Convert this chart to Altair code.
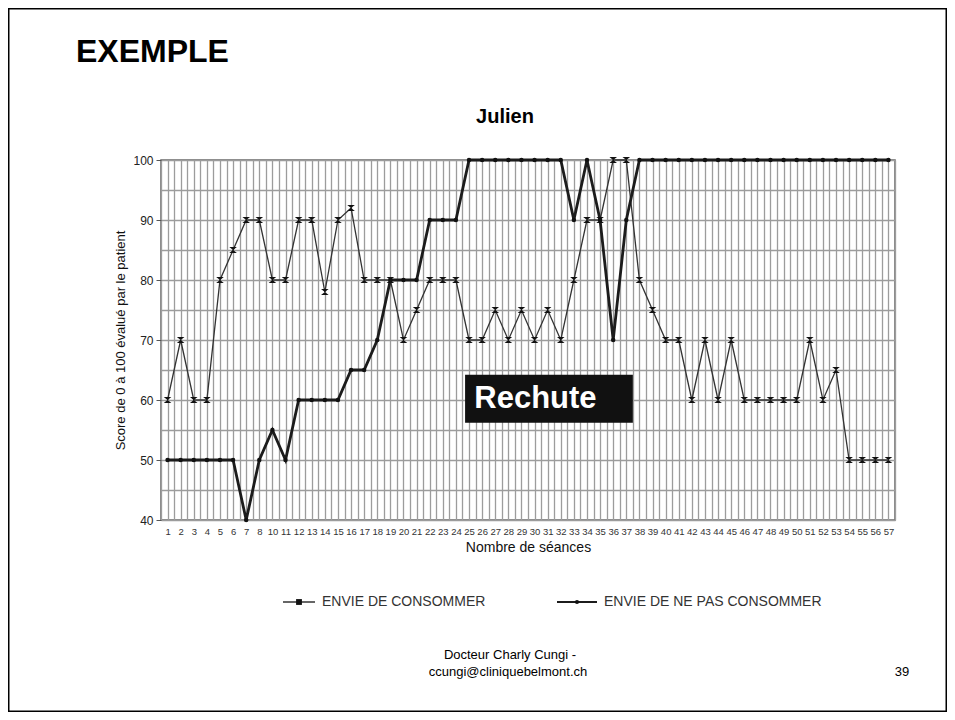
import json
import altair as alt
import pandas as pd

# ---------------- data ----------------
sessions = [1, 2, 3, 4, 5, 6, 7, 8, 10, 11, 12, 13, 14, 15, 16, 17, 18, 19, 20,
            21, 22, 23, 24, 25, 26, 27, 28, 29, 30, 31, 32, 33, 34, 35, 36, 37,
            38, 39, 40, 41, 42, 43, 44, 45, 46, 47, 48, 49, 50, 51, 52, 53, 54,
            55, 56, 57]

envie_consommer = [60, 70, 60, 60, 80, 85, 90, 90, 80, 80, 90, 90, 78, 90,
                   92, 80, 80, 80, 70, 75, 80, 80, 80, 70, 70, 75, 70,
                   75, 70, 75, 70, 80, 90, 90, 100, 100, 80, 75, 70, 70,
                   60, 70, 60, 70, 60, 60, 60, 60, 60, 70, 60, 65, 50, 50, 50, 50]

envie_ne_pas = [50, 50, 50, 50, 50, 50, 40, 50, 55, 50, 60, 60, 60, 60,
                65, 65, 70, 80, 80, 80, 90, 90, 90, 100, 100, 100, 100,
                100, 100, 100, 100, 90, 100, 90, 70, 90, 100, 100, 100, 100,
                100, 100, 100, 100, 100, 100, 100, 100, 100, 100, 100, 100, 100, 100, 100, 100]

series_names = ["ENVIE DE CONSOMMER", "ENVIE DE NE PAS CONSOMMER"]

# annotation box "Rechute" (in data units: session index / score)
rechute_text = ["Rechute"]
rechute_x = [22.7, 35.5]
rechute_y = [56.2, 64.2]
rechute_text_pos = [23.4, 60.2]

# ---------------- tables ----------------
n = len(sessions)
rows = []
for name, vals in zip(series_names, [envie_consommer, envie_ne_pas]):
    for i, (s, v) in enumerate(zip(sessions, vals)):
        rows.append({"idx": i, "session": s, "series": name, "marker": name, "value": v})
df = pd.DataFrame(rows)

ann = pd.DataFrame({
    "x1": [rechute_x[0]], "x2": [rechute_x[1]],
    "y1": [rechute_y[0]], "y2": [rechute_y[1]],
    "tx": [rechute_text_pos[0]], "ty": [rechute_text_pos[1]],
    "label": rechute_text,
})

FONT = "Liberation Sans, Arial, sans-serif"
label_arr = json.dumps([str(s) for s in sessions])
grid_vals = [k / 2 - 0.5 for k in range(2 * n + 1)]

x_scale = alt.Scale(domain=[-0.5, n - 0.5], nice=False, zero=False)
y_scale = alt.Scale(domain=[40, 100], nice=False, zero=False)

GRID = "#9c9c9c"

x_axis = alt.Axis(
    values=grid_vals,
    labelExpr=f"datum.value % 1 === 0 ? {label_arr}[datum.value] : ''",
    grid=True, gridColor=GRID, gridWidth=1.3,
    ticks=False, domain=False, labelAngle=0, labelOverlap=False,
    labelFont=FONT, labelFontSize=9.5, labelColor="#333", labelPadding=6,
    labelBound=False, labelFlush=False,
    title="Nombre de séances", titleFont=FONT, titleFontSize=14,
    titleFontWeight="normal", titleColor="#111", titlePadding=5,
)
y_axis = alt.Axis(
    values=list(range(40, 101, 5)),
    labelExpr="datum.value % 10 === 0 ? datum.label : ''",
    grid=True, gridColor=GRID, gridWidth=1.3,
    ticks=True, tickSize=5, tickColor="#555",
    tickOpacity={"expr": "datum.value % 10 === 0 ? 1 : 0"},
    domain=False,
    labelFont=FONT, labelFontSize=12, labelColor="#222", labelPadding=3,
    title="Score de 0 à 100 évalué par le patient", titleFont=FONT,
    titleFontSize=13, titleFontWeight="normal", titleColor="#111",
    titlePadding=5,
)


def X(field):
    return alt.X(field, scale=x_scale, axis=x_axis)


def Y(field):
    return alt.Y(field, scale=y_scale, axis=y_axis)


hourglass = "M-1,-0.8L1,-0.8L0,0ZM-1,0.8L1,0.8L0,0Z"
line_colors = ["#333333", "#1c1c1c"]
line_widths = [1.3, 2.8]

lines = alt.Chart(df).mark_line().encode(
    x=X("idx:Q"),
    y=Y("value:Q"),
    color=alt.Color("series:N", scale=alt.Scale(domain=series_names, range=line_colors), legend=None),
    strokeWidth=alt.StrokeWidth(
        "series:N", scale=alt.Scale(domain=series_names, range=line_widths), legend=None
    ),
)

points = alt.Chart(df).mark_point(filled=True, color="#111", opacity=1, strokeWidth=1).encode(
    x=X("idx:Q"),
    y=Y("value:Q"),
    shape=alt.Shape("marker:N", scale=alt.Scale(domain=series_names, range=[hourglass, "circle"]), legend=None),
    size=alt.Size("marker:N", scale=alt.Scale(domain=series_names, range=[58, 20]), legend=None),
)

box = alt.Chart(ann).mark_rect(color="#111111").encode(
    x=X("x1:Q"), x2="x2:Q", y=Y("y1:Q"), y2="y2:Q"
)
box_text = alt.Chart(ann).mark_text(
    align="left", baseline="middle", font=FONT, fontSize=31, fontWeight="bold", color="white"
).encode(x=X("tx:Q"), y=Y("ty:Q"), text="label:N")


def slide_text(txt, px, py, size, weight="normal", align="center", color="#000"):
    return alt.Chart(pd.DataFrame({"t": [txt]})).mark_text(
        align=align, baseline="middle", font=FONT, fontSize=size,
        fontWeight=weight, color=color,
    ).encode(x=alt.value(px), y=alt.value(py), text="t:N")


def legend_entry(name, x0, x1, ty, shape, size, width, color):
    one = pd.DataFrame({"t": [name]})
    rule = alt.Chart(one).mark_rule(color=color, strokeWidth=width).encode(
        x=alt.value(x0), x2=alt.value(x1), y=alt.value(ty)
    )
    mark = alt.Chart(one).mark_point(filled=True, color="#111", opacity=1, shape=shape, size=size).encode(
        x=alt.value((x0 + x1) / 2), y=alt.value(ty)
    )
    txt = alt.Chart(one).mark_text(
        align="left", baseline="middle", font=FONT, fontSize=14, color="#333"
    ).encode(x=alt.value(x1 + 7), y=alt.value(ty), text="t:N")
    return [rule, mark, txt]


legend_layers = (
    legend_entry(series_names[0], 122, 154, 442, "square", 34, 1.5, line_colors[0])
    + legend_entry(series_names[1], 396, 436, 442, "circle", 18, 2.0, line_colors[1])
)

texts = [
    slide_text("EXEMPLE", -85, -108, 32, "bold", "left"),
    slide_text("Julien", 344, -43, 20, "bold"),
    slide_text("Docteur Charly Cungi -", 349, 495, 13),
    slide_text("ccungi@cliniquebelmont.ch", 347, 512, 13),
    slide_text("39", 741, 512, 13),
]

frame = alt.Chart(pd.DataFrame({"t": [0]})).mark_rect(
    fillOpacity=0, stroke="#000", strokeWidth=1.5
).encode(
    x=alt.value(-152.25), x2=alt.value(785.25), y=alt.value(-151.25), y2=alt.value(551.25)
)

chart = alt.layer(lines, points, box, box_text, *legend_layers, *texts, frame).properties(
    width=734,
    height=360,
    autosize=alt.AutoSizeParams(type="none"),
    padding={"left": 153, "top": 152, "right": 52, "bottom": 192},
    background="white",
).configure_view(
    stroke="#666666", strokeWidth=1.5
)

chart.save("out.html", embed_options={"renderer": "svg", "actions": False})
